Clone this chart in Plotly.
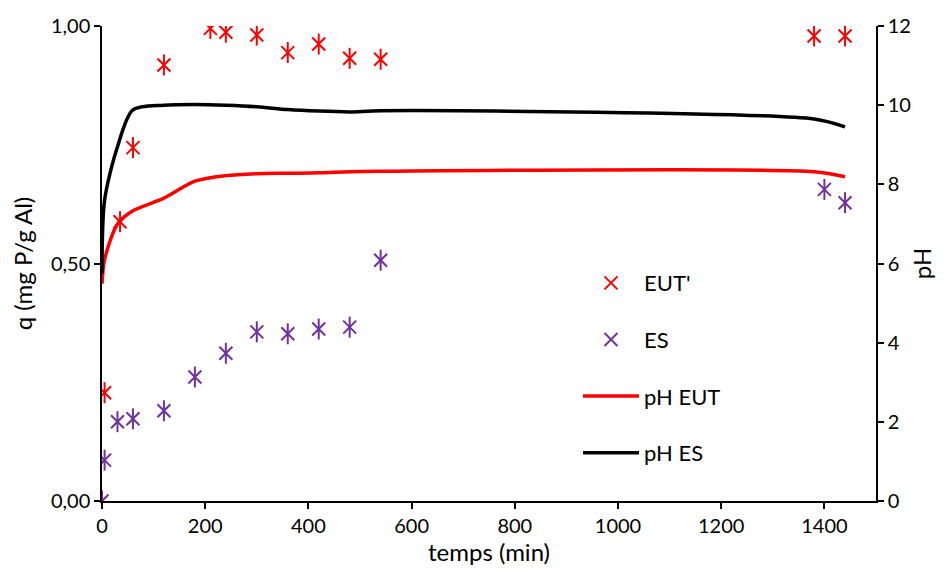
import plotly.graph_objects as go

# q (mg P/g Al) - points
t_eut = [5, 35, 60, 120, 210, 240, 300, 360, 420, 480, 540, 1380, 1440]
q_eut = [0.228, 0.588, 0.744, 0.918, 0.995, 0.987, 0.981, 0.944, 0.962, 0.932, 0.930, 0.979, 0.979]

t_es = [0, 5, 30, 60, 120, 180, 240, 300, 360, 420, 480, 540, 1400, 1440]
q_es = [0.0, 0.086, 0.167, 0.173, 0.190, 0.261, 0.311, 0.356, 0.352, 0.362, 0.366, 0.507, 0.656, 0.628]

# pH - smoothed lines
t_ph = [0, 5, 30, 60, 120, 180, 240, 300, 360, 420, 480, 540, 1380, 1440]
ph_eut = [5.49, 6.1, 7.0, 7.33, 7.65, 8.08, 8.22, 8.27, 8.28, 8.29, 8.32, 8.33, 8.32, 8.19]
ph_es = [5.75, 7.6, 8.95, 9.88, 10.0, 10.02, 10.0, 9.96, 9.89, 9.85, 9.83, 9.86, 9.65, 9.45]

FONT = 'Lato'
RED = '#ff0000'
PURPLE = '#7030a0'

fig = go.Figure()


def add_star(x, y, name, color):
    # Excel-style star = X + vertical bar
    fig.add_trace(go.Scatter(
        x=x, y=y, name=name, mode='markers', legendgroup=name,
        marker=dict(symbol='x-thin-open', size=13, color=color,
                    line=dict(color=color, width=2)),
    ))
    fig.add_trace(go.Scatter(
        x=x, y=y, name=name, mode='markers', legendgroup=name, showlegend=False,
        marker=dict(symbol='line-ns-open', size=15, color=color,
                    line=dict(color=color, width=2)),
    ))


add_star(t_eut, q_eut, "EUT'", RED)
add_star(t_es, q_es, 'ES', PURPLE)

fig.add_trace(go.Scatter(
    x=t_ph, y=ph_eut, name='pH EUT', mode='lines', yaxis='y2', legendgroup='pH EUT',
    line=dict(color=RED, width=3.5, shape='spline', smoothing=0.8),
))
fig.add_trace(go.Scatter(
    x=t_ph, y=ph_es, name='pH ES', mode='lines', yaxis='y2', legendgroup='pH ES',
    line=dict(color='black', width=3.5, shape='spline', smoothing=0.8),
))

axis_common = dict(
    showgrid=False, zeroline=False, showline=True, linecolor='black', linewidth=1.5,
    ticks='outside', ticklen=6, tickcolor='black', tickwidth=1.5, automargin=False,
    tickfont=dict(family=FONT, size=20, color='black'),
)

# the page body adds an 8px offset, so the figure is 8px smaller than the window
fig.update_layout(
    width=936, height=563,
    paper_bgcolor='white', plot_bgcolor='white',
    separators=', ',
    margin=dict(l=94, r=68, t=18, b=70, autoexpand=False),
    font=dict(family=FONT, color='black'),
    xaxis=dict(
        range=[0, 1500], dtick=200, tick0=0,
        title=dict(text='temps (min)', font=dict(family=FONT, size=24), standoff=2),
        **axis_common,
    ),
    yaxis=dict(
        range=[0, 1], dtick=0.5, tickformat='.2f',
        title=dict(text='q (mg P/g Al)', font=dict(family=FONT, size=24), standoff=12),
        **axis_common,
    ),
    yaxis2=dict(
        range=[0, 12], dtick=2, overlaying='y', side='right',
        title=dict(text='pH', font=dict(family=FONT, size=24), standoff=4),
        **axis_common,
    ),
    legend=dict(
        x=0.615, y=0.503, xanchor='left', yanchor='top',
        font=dict(family=FONT, size=22, color='black'),
        bgcolor='rgba(0,0,0,0)', itemwidth=56, tracegroupgap=25,
    ),
    showlegend=True,
)

fig.write_html('out.html')
